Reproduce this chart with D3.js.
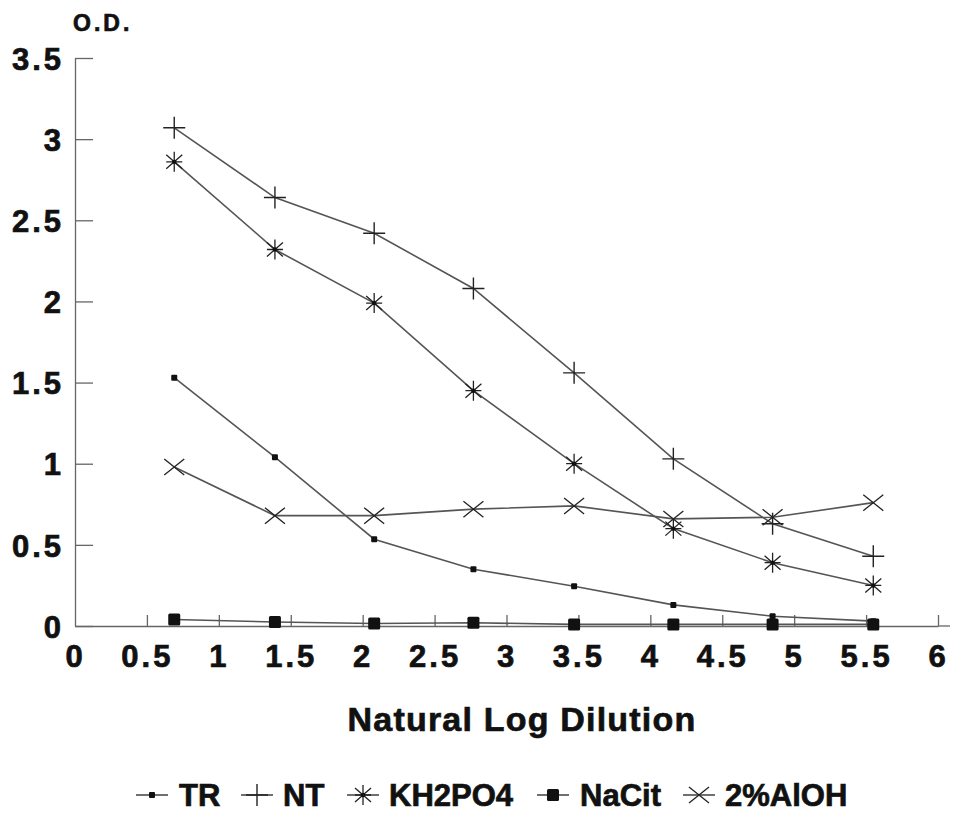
<!DOCTYPE html>
<html>
<head>
<meta charset="utf-8">
<script src="https://cdn.jsdelivr.net/npm/d3@7"></script>
<style>
  body { margin: 0; background: #fff; }
  text { font-family: "Liberation Sans", Arial, Helvetica, sans-serif; font-weight: bold; fill: #111; stroke: #111; stroke-width: 0.7px; }
</style>
</head>
<body>
<svg id="chart" width="966" height="818"></svg>
<script>
const dilutions = [0.69, 1.39, 2.08, 2.77, 3.47, 4.16, 4.85, 5.55];
const seriesNames = ['TR', 'NT', 'KH2PO4', 'NaCit', '2%AlOH'];
const trValues = [1.53, 1.04, 0.535, 0.35, 0.245, 0.13, 0.06, 0.03];
const ntValues = [3.07, 2.64, 2.42, 2.08, 1.56, 1.03, 0.63, 0.43];
const kh2po4Values = [2.86, 2.32, 1.99, 1.45, 1.00, 0.60, 0.39, 0.25];
const naCitValues = [0.04, 0.025, 0.015, 0.02, 0.01, 0.01, 0.01, 0.01];
const alohValues = [0.98, 0.68, 0.68, 0.72, 0.74, 0.66, 0.67, 0.76];
const xTicks = [0, 0.5, 1, 1.5, 2, 2.5, 3, 3.5, 4, 4.5, 5, 5.5, 6];
const yTicks = [0, 0.5, 1, 1.5, 2, 2.5, 3, 3.5];

const seriesValues = [trValues, ntValues, kh2po4Values, naCitValues, alohValues];
const markerKinds = ['dot', 'plus', 'star', 'square', 'cross'];

const svg = d3.select('#chart');
const x = d3.scaleLinear().domain([0, 6]).range([75, 938]);
const y = d3.scaleLinear().domain([0, 3.5]).range([626, 58]);

// marker shapes, drawn around (0,0)
const drawMarker = (g, kind) => {
  const stroke = '#222';
  if (kind === 'dot') {
    g.append('rect').attr('x', -3).attr('y', -3).attr('width', 6).attr('height', 6).attr('rx', 1).attr('fill', '#111');
  } else if (kind === 'square') {
    g.append('rect').attr('x', -6).attr('y', -6).attr('width', 12).attr('height', 12).attr('rx', 1.5).attr('fill', '#111');
  } else if (kind === 'plus') {
    g.append('path').attr('d', 'M-11,0H11M0,-11V11').attr('stroke', stroke).attr('stroke-width', 1.4);
  } else if (kind === 'star') {
    g.append('path').attr('d', 'M0,-10V10M-8,-7L8,7M-8,7L8,-7M-8,0H8')
      .attr('stroke', stroke).attr('stroke-width', 1.3);
    g.append('circle').attr('r', 2.2).attr('fill', '#111');
  } else if (kind === 'cross') {
    g.append('path').attr('d', 'M-10,-8L10,8M-10,8L10,-8').attr('stroke', stroke).attr('stroke-width', 1.3);
  }
};

// axes
const yAxis = d3.axisLeft(y).tickValues(yTicks).tickFormat(d => String(d))
  .tickSize(-18).tickSizeOuter(0).tickPadding(11);
const gy = svg.append('g').attr('transform', `translate(${x(0)},0)`).call(yAxis);

const xAxis = d3.axisBottom(x).tickValues(xTicks).tickFormat(d => String(d))
  .tickSize(-11).tickSizeOuter(0).tickPadding(19);
const gx = svg.append('g').attr('transform', `translate(0,${y(0)})`).call(xAxis);

[gx, gy].forEach(g => {
  g.select('.domain').attr('stroke', '#666').attr('stroke-width', 1.3);
  g.selectAll('.tick line').attr('stroke', '#666').attr('stroke-width', 1.3);
  g.selectAll('.tick text')
    .style('font-family', '"Liberation Sans", Arial, sans-serif')
    .style('font-weight', 'bold').style('font-size', '31px')
    .style('letter-spacing', '3px').attr('fill', '#111')
    .attr('stroke', '#111').attr('stroke-width', 0.7);
});
gy.selectAll('.tick text').attr('dy', '0.36em');
gx.selectAll('.tick line').filter(d => d === 0).remove();
// axis line runs on past 6
gx.append('line').attr('x1', x(6)).attr('x2', 950).attr('stroke', '#666').attr('stroke-width', 1.3);

svg.append('text').attr('x', 73).attr('y', 31)
  .style('font-size', '23px').style('letter-spacing', '3px').text('O.D.');

svg.append('text').attr('x', 522).attr('y', 731).attr('text-anchor', 'middle')
  .style('font-size', '34px').style('letter-spacing', '1.2px').text('Natural Log Dilution');

// series
const line = d3.line().x(d => x(d[0])).y(d => y(d[1]));
seriesValues.forEach((vals, i) => {
  const pts = dilutions.map((d, j) => [d, vals[j]]);
  svg.append('path').datum(pts).attr('d', line)
    .attr('fill', 'none').attr('stroke', '#555').attr('stroke-width', 1.6);
  pts.forEach(p => {
    const g = svg.append('g').attr('transform', `translate(${x(p[0])},${y(p[1])})`);
    drawMarker(g, markerKinds[i]);
  });
});

// legend
const legendMarkerX = [152, 257, 363, 553, 699];
const legendTextX = [179, 283, 389, 580, 725];
seriesNames.forEach((name, i) => {
  const g = svg.append('g').attr('transform', `translate(${legendMarkerX[i]},795)`);
  g.append('line').attr('x1', -16).attr('x2', 16).attr('stroke', '#333').attr('stroke-width', 1.4);
  drawMarker(g, markerKinds[i]);
  svg.append('text').attr('x', legendTextX[i]).attr('y', 806)
    .style('font-size', '31px').text(name);
});
</script>
</body>
</html>
